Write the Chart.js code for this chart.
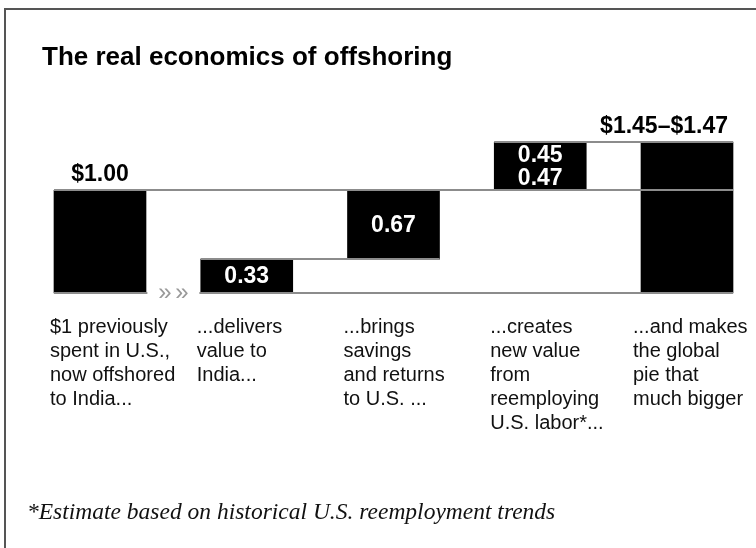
<!DOCTYPE html>
<html>
<head>
<meta charset="utf-8">
<title>The real economics of offshoring</title>
<script src="https://cdn.jsdelivr.net/npm/chart.js@4.4.1/dist/chart.umd.min.js"></script>
<style>
  body { margin: 0; background: #fff; }
  #page { position: relative; width: 756px; height: 548px; overflow: hidden; background: #fff; }
  #frame { position: absolute; left: 4px; top: 8px; width: 800px; height: 600px; border-top: 2px solid #555; border-left: 2px solid #555; }
  #chart { position: absolute; left: 0; top: 0; }
  #title { position: absolute; left: 42px; top: 43px; font: bold 26px/26px "Liberation Sans", Arial, sans-serif; color: #000; white-space: nowrap; }
  #note { position: absolute; left: 27px; top: 500px; font: italic 23.5px/23.5px "Liberation Serif", "Times New Roman", serif; color: #111; white-space: nowrap; }
</style>
</head>
<body>
<div id="page">
  <div id="frame"></div>
  <canvas id="chart" width="756" height="548"></canvas>
  <div id="title">The real economics of offshoring</div>
  <div id="note">*Estimate based on historical U.S. reemployment trends</div>
</div>
<script>
// captions under each column
const categories = [
    ['$1 previously', 'spent in U.S.,', 'now offshored', 'to India...'],
    ['...delivers', 'value to', 'India...'],
    ['...brings', 'savings', 'and returns', 'to U.S. ...'],
    ['...creates', 'new value', 'from', 'reemploying', 'U.S. labor*...'],
    ['...and makes', 'the global', 'pie that', 'much bigger']
];

// every bar floats from barLow to barHigh (value per offshored dollar)
const barLow = [0, 0, 0.33, 1.00, 0];
const barHigh = [1.00, 0.33, 1.00, 1.47, 1.47];
const barLabels = [['$1.00'], ['0.33'], ['0.67'], ['0.45', '0.47'], ['$1.45–$1.47']];
const barKinds = ['total', 'step', 'step', 'step', 'total'];

// gray guide lines joining the steps
const guides = [
    { value: barHigh[0], from: 0, to: 4 },
    { value: barHigh[1], from: 1, to: 2 },
    { value: barHigh[3], from: 3, to: 4 }
];

const GUIDE_GRAY = '#8c8c8c';
const SANS = '"Liberation Sans", Arial, sans-serif';

const waterfallDecor = {
    id: 'waterfallDecor',
    afterDatasetsDraw(chart) {
        const ctx = chart.ctx;
        const yScale = chart.scales.y;
        const bars = chart.getDatasetMeta(0).data;
        const last = bars.length - 1;
        const leftOf = i => bars[i].x - bars[i].width / 2;
        const rightOf = i => bars[i].x + bars[i].width / 2;
        const level = v => Math.round(yScale.getPixelForValue(v));

        function hline(x1, x2, py) {
            ctx.beginPath();
            ctx.moveTo(x1, py);
            ctx.lineTo(x2, py);
            ctx.stroke();
        }

        ctx.save();
        ctx.strokeStyle = GUIDE_GRAY;
        ctx.lineWidth = 2;
        guides.forEach(g => hline(leftOf(g.from), rightOf(g.to), level(g.value)));

        // baseline, broken between the first two columns for the arrows
        const base = level(0);
        const mid = (rightOf(0) + leftOf(1)) / 2;
        hline(leftOf(0), mid - 26, base);
        hline(mid + 26, rightOf(last), base);
        ctx.fillStyle = '#9a9a9a';
        ctx.font = '24px ' + SANS;
        ctx.textAlign = 'center';
        ctx.textBaseline = 'middle';
        ctx.fillText('»', mid - 8.5, base);
        ctx.fillText('»', mid + 8.5, base);

        // value labels: white inside the steps, black above the totals
        ctx.font = 'bold 23px ' + SANS;
        bars.forEach((bar, i) => {
            const lines = barLabels[i];
            if (barKinds[i] === 'step') {
                const cy = (bar.y + bar.base) / 2;
                ctx.fillStyle = '#fff';
                ctx.textAlign = 'center';
                ctx.textBaseline = 'middle';
                lines.forEach((t, k) => ctx.fillText(t, bar.x, cy + (k - (lines.length - 1) / 2) * 23 + 1));
            } else {
                ctx.fillStyle = '#000';
                ctx.textBaseline = 'alphabetic';
                const w = ctx.measureText(lines[0]).width;
                if (w > bar.width) {
                    ctx.textAlign = 'right';
                    ctx.fillText(lines[0], rightOf(i) - 5, bar.y - 9);
                } else {
                    ctx.textAlign = 'center';
                    ctx.fillText(lines[0], bar.x, bar.y - 9);
                }
            }
        });

        // captions, pulled a little left of each bar (more on the last one)
        ctx.font = '20px ' + SANS;
        ctx.fillStyle = '#111';
        ctx.textAlign = 'left';
        ctx.textBaseline = 'middle';
        chart.data.labels.forEach((lines, i) => {
            const inset = i === last ? 8 : 4;
            lines.forEach((t, k) => ctx.fillText(t, leftOf(i) - inset, 327 + k * 24));
        });
        ctx.restore();
    }
};

const ctx = document.getElementById('chart').getContext('2d');
const chart = new Chart(ctx, {
    type: 'bar',
    data: {
        labels: categories,
        datasets: [{
            data: barLow.map((lo, i) => [lo, barHigh[i]]),
            backgroundColor: '#000',
            borderWidth: 0,
            barThickness: 92,
            clip: false
        }]
    },
    options: {
        responsive: false,
        animation: false,
        devicePixelRatio: 1,
        layout: { padding: { left: 100, right: 69, top: 139, bottom: 255 } },
        scales: {
            x: { display: false, offset: false },
            y: { display: false, min: 0, max: 1.5 }
        },
        plugins: {
            legend: { display: false },
            tooltip: { enabled: false }
        }
    },
    plugins: [waterfallDecor]
});
</script>
</body>
</html>
